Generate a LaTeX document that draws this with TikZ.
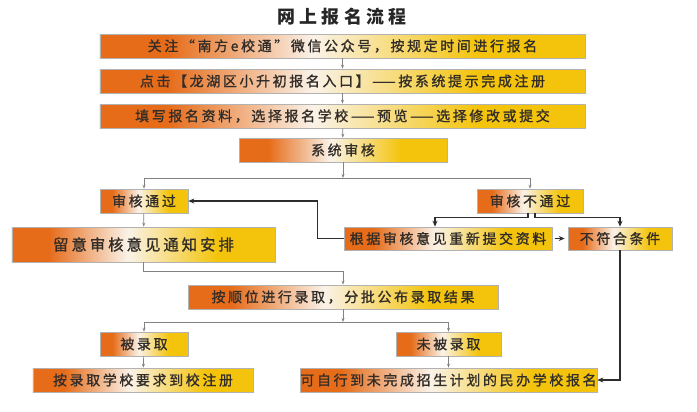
\documentclass[tikz,border=0pt]{standalone}
\usepackage{fontspec}
\setmainfont{Noto Sans CJK SC}
\newfontfamily\boxfont[LetterSpace=19, FakeBold=1.2]{Noto Sans CJK SC}
\newfontfamily\titlefont[LetterSpace=24]{Noto Sans CJK SC}
\usetikzlibrary{arrows.meta, positioning, calc}

\definecolor{boxorange}{RGB}{230,108,26}
\definecolor{boxyellow}{RGB}{244,196,12}
\definecolor{boxwhite}{RGB}{250,242,232}
\definecolor{lineGray}{RGB}{130,130,130}
\definecolor{lineDark}{RGB}{45,45,45}
\definecolor{txtGray}{RGB}{50,45,40}

\pgfdeclarehorizontalshading{stepshade}{100bp}{color(0bp)=(boxorange); color(25bp)=(boxorange); color(32bp)=(boxorange); color(47bp)=(boxwhite); color(64bp)=(boxyellow); color(75bp)=(boxyellow); color(100bp)=(boxyellow)}

\tikzset{
    stepbox/.style={draw=gray!60, line width=0.6bp, shading=stepshade,
        minimum height=24bp, inner sep=0pt, text=txtGray,
        font=\boxfont\fontsize{14}{15}\selectfont},
    flow/.style={draw=lineGray, line width=0.7bp, -{Stealth[length=4bp, width=3bp]}},
    back/.style={draw=lineDark, line width=1.4bp, -{Stealth[length=6bp, width=5bp]}}
}

\begin{document}
\begin{tikzpicture}[x=1bp, y=-1bp]
    \useasboundingbox (0,0) rectangle (697,411);

    % Title
    \node[font=\titlefont\bfseries\fontsize{18}{19}\selectfont, text=black!85] (title) at (342,17) {网上报名流程};

    % Registration steps
    \node[stepbox, minimum width=485bp] (reg1) at (342.5,46)  {关注“南方e校通”微信公众号，按规定时间进行报名};
    \node[stepbox, minimum width=485bp] (reg2) at (342.5,81)  {点击【龙湖区小升初报名入口】——按系统提示完成注册};
    \node[stepbox, minimum width=485bp] (reg3) at (342.5,116) {填写报名资料，选择报名学校——预览——选择修改或提交};
    \node[stepbox, minimum width=208bp] (check) at (343,150) {系统审核};

    % Review result
    \node[stepbox, minimum width=88bp]  (pass) at (144,201) {审核通过};
    \node[stepbox, minimum width=106bp] (fail) at (530,201) {审核不通过};
    \node[stepbox, minimum width=263bp, minimum height=35bp,
          font=\boxfont\fontsize{15.5}{16}\selectfont] (notice) at (143.5,244.5) {留意审核意见通知安排};
    \node[stepbox, minimum width=208bp, minimum height=23bp] (resubmit) at (448,238.5) {根据审核意见重新提交资料};
    \node[stepbox, minimum width=104bp, minimum height=23bp] (unqual) at (620,238.5) {不符合条件};

    % Admission
    \node[stepbox, minimum width=310bp] (admit) at (343,297) {按顺位进行录取，分批公布录取结果};
    \node[stepbox, minimum width=88bp]  (yes) at (144,344) {被录取};
    \node[stepbox, minimum width=105bp] (no) at (448.5,344) {未被录取};
    \node[stepbox, minimum width=220bp] (regist) at (143,380) {按录取学校要求到校注册};
    \node[stepbox, minimum width=297bp] (private) at (448.5,380) {可自行到未完成招生计划的民办学校报名};

    % Split points
    \coordinate (split1) at (343,178);
    \coordinate (split2) at (343,322);

    % Main flow
    \draw[flow] (reg1) -- (reg2);
    \draw[flow] (reg2) -- (reg3);
    \draw[flow] (reg3) -- (check);
    \draw[flow] (check) -- (split1);
    \draw[flow] (split1) -| (pass.north);
    \draw[flow] (split1) -| (fail.north);
    \draw[flow] (pass) -- (notice);
    \draw[flow] (notice.south) -- ++(0,9.5) -| (admit.north);
    \draw[flow] (admit) -- (split2);
    \draw[flow] (split2) -| (yes.north);
    \draw[flow] (split2) -| (no.north);
    \draw[flow] (yes) -- (regist);
    \draw[flow] (no) -- (private);

    % Failed review
    \draw[back] ([xshift=-2bp]fail.south) -- ++(0,4) -| ([xshift=-13bp]resubmit.north);
    \draw[back] ([xshift=5bp]fail.south) -- ++(0,4) -| (unqual.north);
    \draw[back, shorten <=3bp, shorten >=3bp] (resubmit) -- (unqual);
    \draw[back] (resubmit.west) -- ++(-26,0) |- (pass.east);
    \draw[back] (unqual.south) |- (private.east);
\end{tikzpicture}
\end{document}
